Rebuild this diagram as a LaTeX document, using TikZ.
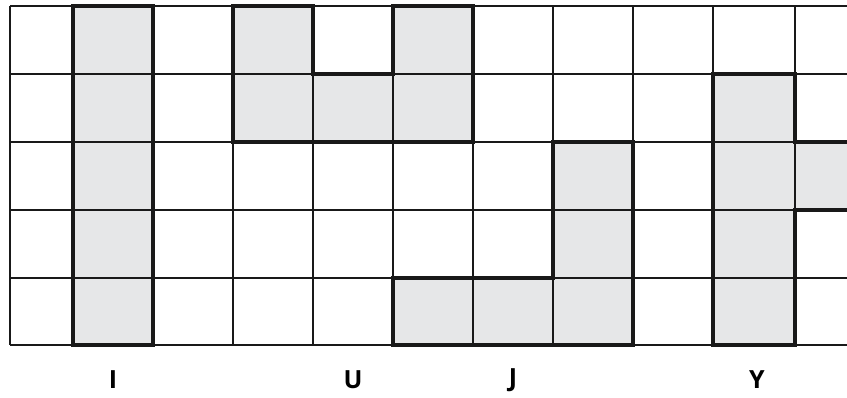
\documentclass[tikz,border=0pt]{standalone}
\usepackage{fontspec}
\setsansfont{Open Sans}
\usepackage{tikz}

\definecolor{tile}{HTML}{E6E7E8}
\tikzset{
  gridline/.style={line width=1.6pt,black!90},
  piece/.style={line width=4pt,line join=miter,black!90},
  letter/.style={font=\sffamily\bfseries\fontsize{25}{30}\selectfont,inner sep=0pt}
}

\begin{document}
\begin{tikzpicture}[x=1pt,y=-1pt]
  \clip (0,0) rectangle (847,397);
  % shaded cells
  \fill[tile] (73,6) rectangle (153,345);
  \fill[tile] (233,6) -- (313,6) -- (313,74) -- (393,74) -- (393,6) -- (473,6) -- (473,142) -- (233,142) -- cycle;
  \fill[tile] (553,142) -- (633,142) -- (633,345) -- (393,345) -- (393,278) -- (553,278) -- cycle;
  \fill[tile] (713,74) -- (795,74) -- (795,142) -- (852,142) -- (852,210) -- (795,210) -- (795,345) -- (713,345) -- cycle;
  % grid
  \foreach \x in {10,73,153,233,313,393,473,553,633,713,795}
    \draw[gridline] (\x,6) -- (\x,345);
  \foreach \y in {6,74,142,210,278,345}
    \draw[gridline] (10,\y) -- (852,\y);
  % outlines of the pieces
  \draw[piece] (73,6) rectangle (153,345);
  \draw[piece] (233,6) -- (313,6) -- (313,74) -- (393,74) -- (393,6) -- (473,6) -- (473,142) -- (233,142) -- cycle;
  \draw[piece] (553,142) -- (633,142) -- (633,345) -- (393,345) -- (393,278) -- (553,278) -- cycle;
  \draw[piece] (860,142) -- (795,142) -- (795,74) -- (713,74) -- (713,345) -- (795,345) -- (795,210) -- (860,210);
  % labels
  \node[letter] (I) at (113,380) {I};
  \node[letter] (U) at (353,380) {U};
  \node[letter] (J) at (513,380) {J};
  \node[letter] (Y) at (757,380) {Y};
\end{tikzpicture}
\end{document}
